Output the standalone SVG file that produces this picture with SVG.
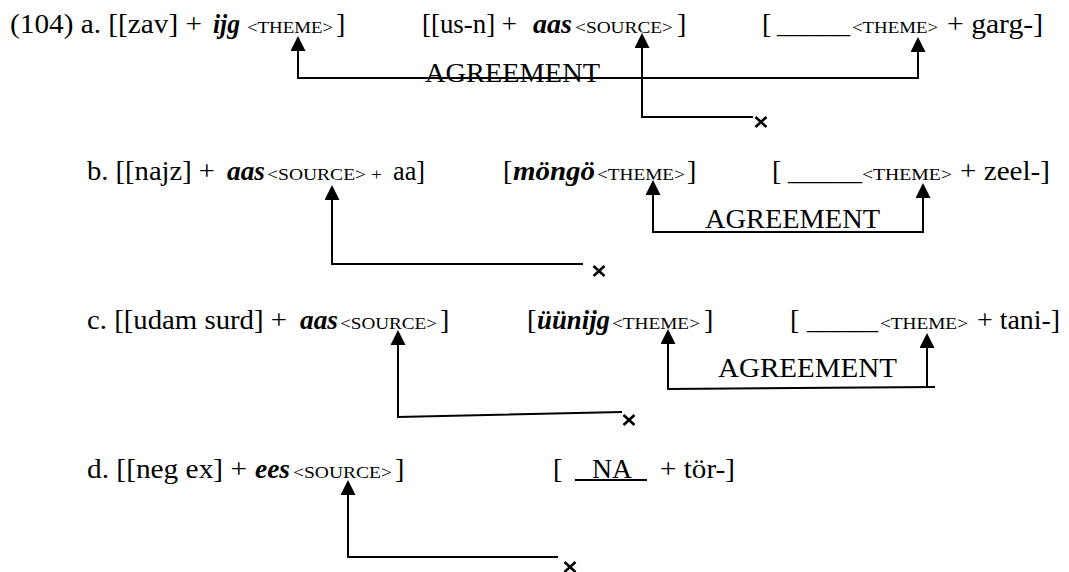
<svg xmlns="http://www.w3.org/2000/svg" width="1069" height="572" viewBox="0 0 1069 572">
<style>
text{font-family:"Liberation Serif","Times New Roman",serif;fill:#000}
.t{font-size:28px}
.bi{font-size:28px;font-weight:bold;font-style:italic}
.s{font-size:17px}
.c{fill:none;stroke:#000;stroke-width:2}
.x{fill:none;stroke:#000;stroke-width:2.6}
</style>
<defs>
<marker id="ah" markerUnits="userSpaceOnUse" markerWidth="15" markerHeight="15" refX="0" refY="7.5" orient="auto-start-reverse" viewBox="0 0 15 15">
<path d="M0,0 L15,7.5 L0,15 z" fill="#000"/>
</marker>
<path id="xm" class="x" d="M-5.5,-5 L5.5,5 M5.5,-5 L-5.5,5"/>
</defs>
<rect width="1069" height="572" fill="#fff"/>

<g id="row-a">
<g id="a1">
<text class="t" x="10" y="33" textLength="192" lengthAdjust="spacingAndGlyphs">(104) a. [[zav] +</text>
<text class="bi" x="213" y="33" textLength="27" lengthAdjust="spacingAndGlyphs">ijg</text>
<text class="s" x="247" y="33" textLength="86" lengthAdjust="spacingAndGlyphs">&lt;THEME&gt;</text>
<text class="t" x="336" y="33">]</text>
</g>
<g id="a2">
<text class="t" x="422" y="33" textLength="95" lengthAdjust="spacingAndGlyphs">[[us-n] +</text>
<text class="bi" x="533" y="33" textLength="39" lengthAdjust="spacingAndGlyphs">aas</text>
<text class="s" x="575" y="33" textLength="98" lengthAdjust="spacingAndGlyphs">&lt;SOURCE&gt;</text>
<text class="t" x="677" y="33">]</text>
</g>
<g id="a3">
<text class="t" x="762" y="33">[</text>
<text class="t" x="777" y="33" textLength="73" lengthAdjust="spacingAndGlyphs">_____</text>
<text class="s" x="852" y="33" textLength="86" lengthAdjust="spacingAndGlyphs">&lt;THEME&gt;</text>
<text class="t" x="947" y="33" textLength="96" lengthAdjust="spacingAndGlyphs">+ garg-]</text>
</g>
<text id="a-agr" class="t" x="425" y="82" textLength="175" lengthAdjust="spacingAndGlyphs">AGREEMENT</text>
</g>

<g id="row-b">
<g id="b1">
<text class="t" x="87" y="180" textLength="128" lengthAdjust="spacingAndGlyphs">b. [[najz] +</text>
<text class="bi" x="227" y="180" textLength="38" lengthAdjust="spacingAndGlyphs">aas</text>
<text class="s" x="267" y="180" textLength="115" lengthAdjust="spacingAndGlyphs">&lt;SOURCE&gt; +</text>
<text class="t" x="393" y="180" textLength="32" lengthAdjust="spacingAndGlyphs">aa]</text>
</g>
<g id="b2">
<text class="t" x="503" y="180">[</text>
<text class="bi" x="513" y="180" textLength="82" lengthAdjust="spacingAndGlyphs">möngö</text>
<text class="s" x="597" y="180" textLength="88" lengthAdjust="spacingAndGlyphs">&lt;THEME&gt;</text>
<text class="t" x="687" y="180">]</text>
</g>
<g id="b3">
<text class="t" x="772" y="180">[</text>
<text class="t" x="788" y="180" textLength="74" lengthAdjust="spacingAndGlyphs">_____</text>
<text class="s" x="862" y="180" textLength="90" lengthAdjust="spacingAndGlyphs">&lt;THEME&gt;</text>
<text class="t" x="960" y="180" textLength="90" lengthAdjust="spacingAndGlyphs">+ zeel-]</text>
</g>
<text id="b-agr" class="t" x="705" y="228" textLength="175" lengthAdjust="spacingAndGlyphs">AGREEMENT</text>
</g>

<g id="row-c">
<g id="c1">
<text class="t" x="87" y="329" textLength="200" lengthAdjust="spacingAndGlyphs">c. [[udam surd] +</text>
<text class="bi" x="300" y="329" textLength="38" lengthAdjust="spacingAndGlyphs">aas</text>
<text class="s" x="340" y="329" textLength="97" lengthAdjust="spacingAndGlyphs">&lt;SOURCE&gt;</text>
<text class="t" x="440" y="329">]</text>
</g>
<g id="c2">
<text class="t" x="527" y="329">[</text>
<text class="bi" x="537" y="329" textLength="73" lengthAdjust="spacingAndGlyphs">üünijg</text>
<text class="s" x="612" y="329" textLength="88" lengthAdjust="spacingAndGlyphs">&lt;THEME&gt;</text>
<text class="t" x="704" y="329">]</text>
</g>
<g id="c3">
<text class="t" x="790" y="329">[</text>
<text class="t" x="807" y="329" textLength="71" lengthAdjust="spacingAndGlyphs">_____</text>
<text class="s" x="880" y="329" textLength="88" lengthAdjust="spacingAndGlyphs">&lt;THEME&gt;</text>
<text class="t" x="977" y="329" textLength="83" lengthAdjust="spacingAndGlyphs">+ tani-]</text>
</g>
<text id="c-agr" class="t" x="718" y="377" textLength="179" lengthAdjust="spacingAndGlyphs">AGREEMENT</text>
</g>

<g id="row-d">
<g id="d1">
<text class="t" x="87" y="478" textLength="160" lengthAdjust="spacingAndGlyphs">d. [[neg ex] +</text>
<text class="bi" x="255" y="478" textLength="35" lengthAdjust="spacingAndGlyphs">ees</text>
<text class="s" x="293" y="478" textLength="99" lengthAdjust="spacingAndGlyphs">&lt;SOURCE&gt;</text>
<text class="t" x="395" y="478">]</text>
</g>
<g id="d2">
<text class="t" x="553" y="478">[</text>
<text class="t" x="592" y="478" textLength="40" lengthAdjust="spacingAndGlyphs">NA</text>
<line x1="575" y1="480" x2="647" y2="480" stroke="#000" stroke-width="2"/>
<text class="t" x="660" y="478" textLength="75" lengthAdjust="spacingAndGlyphs">+ tör-]</text>
</g>
</g>

<g id="connectors">
<path class="c" d="M298,51 V78 H918 V52" marker-start="url(#ah)" marker-end="url(#ah)"/>
<path class="c" d="M642,48 V117 H753" marker-start="url(#ah)"/>
<use href="#xm" x="761" y="122"/>
<path class="c" d="M332,200 V264 H583" marker-start="url(#ah)"/>
<use href="#xm" x="599" y="271"/>
<path class="c" d="M653,195 V232 H923 V198" marker-start="url(#ah)" marker-end="url(#ah)"/>
<path class="c" d="M398,345 V417 L622,412" marker-start="url(#ah)"/>
<use href="#xm" x="629" y="420"/>
<path class="c" d="M668,344 V389 L935,387 M927,387 V348" marker-start="url(#ah)" marker-end="url(#ah)"/>
<path class="c" d="M348,495 V557 H558" marker-start="url(#ah)"/>
<use href="#xm" x="570" y="567"/>
</g>
</svg>
